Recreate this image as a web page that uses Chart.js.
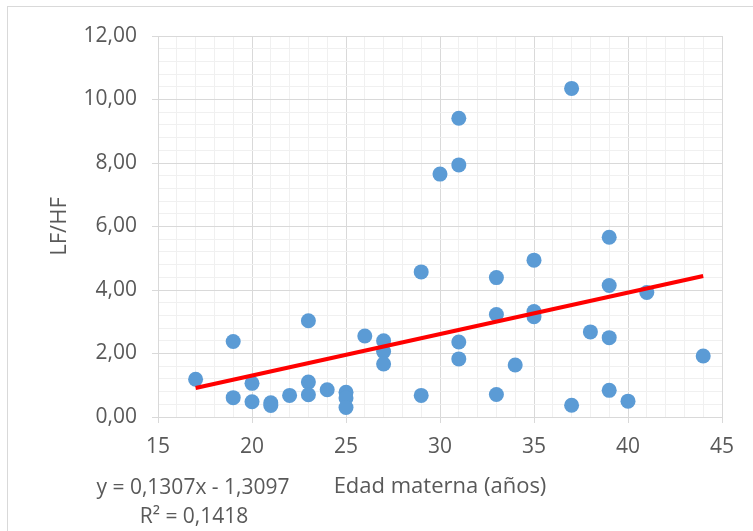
<!DOCTYPE html>
<html>
<head>
<meta charset="utf-8">
<script src="https://cdn.jsdelivr.net/npm/chart.js@4"></script>
<style>
    body { margin: 0; background: #ffffff; }
    canvas { display: block; }
</style>
</head>
<body>
<canvas id="chart" width="753" height="531"></canvas>
<script>
// Edad materna (x) and LF/HF (y)
const edad = [17, 19, 19, 20, 20, 21, 21, 22, 23, 23, 23, 24, 25, 25, 25, 26, 27, 27, 27,
    29, 29, 30, 31, 31, 31, 31, 33, 33, 33, 34, 35, 35, 35, 37, 37, 38, 39, 39, 39, 39, 40, 41, 44];
const lfhf = [1.19, 2.38, 0.61, 1.06, 0.48, 0.45, 0.36, 0.68, 3.03, 1.10, 0.70, 0.86, 0.78, 0.60, 0.30, 2.55, 2.40, 2.06, 1.67,
    4.57, 0.68, 7.65, 9.41, 7.94, 2.36, 1.83, 4.39, 3.23, 0.71, 1.64, 4.94, 3.32, 3.16, 10.35, 0.37, 2.68, 5.66, 4.14, 2.50, 0.84, 0.50, 3.92, 1.92];

// linear trend line as shown in the chart
const slope = 0.1307;
const intercept = -1.3097;
const rSquared = 0.1418;
const trendFrom = 17;
const trendTo = 44;

const xMin = 15, xMax = 45, xMinor = 1, xMajor = 5;
const yMin = 0, yMax = 12, yMinor = 0.4, yMajor = 2;

const fontFamily = "'Open Sans', sans-serif";
const textColor = "#595959";

function isMajor(v, step) {
    const r = v / step;
    return Math.abs(r - Math.round(r)) < 1e-6;
}

function comma(v, digits) {
    return v.toFixed(digits).replace(".", ",");
}

const points = edad.map((x, i) => ({ x: x, y: lfhf[i] }));
const trend = [trendFrom, trendTo].map((x) => ({ x: x, y: slope * x + intercept }));

// frame round the chart + trend line equation under the plot
const extras = {
    id: "extras",
    beforeDraw(chart) {
        const ctx = chart.ctx;
        ctx.save();
        ctx.strokeStyle = "#d9d9d9";
        ctx.lineWidth = 1;
        ctx.strokeRect(7.5, 6.5, 800, 600);
        ctx.restore();
    },
    afterDraw(chart) {
        const ctx = chart.ctx;
        ctx.save();
        ctx.fillStyle = textColor;
        ctx.font = "21px " + fontFamily;
        ctx.textAlign = "center";
        ctx.textBaseline = "middle";
        ctx.fillText("y = " + comma(slope, 4) + "x - " + comma(-intercept, 4), 193, 488);
        ctx.fillText("R² = " + comma(rSquared, 4), 194, 517);
        ctx.restore();
    },
};

const myChart = new Chart(document.getElementById("chart"), {
    type: "scatter",
    data: {
        datasets: [{
            type: "line",
            label: "Lineal",
            data: trend,
            borderColor: "#ff0000",
            borderWidth: 4,
            pointRadius: 0,
            fill: false,
            order: 0,
        }, {
            label: "LF/HF",
            data: points,
            backgroundColor: "#5b9bd5",
            borderWidth: 0,
            pointRadius: 7.5,
            pointHoverRadius: 7.5,
            order: 1,
        }],
    },
    options: {
        responsive: false,
        animation: false,
        layout: {
            padding: { left: 43, right: 31, top: 36, bottom: 27 },
        },
        plugins: {
            legend: { display: false },
            tooltip: { enabled: false },
        },
        scales: {
            x: {
                type: "linear",
                min: xMin,
                max: xMax,
                afterFit: (scale) => { scale.height = 87; },
                ticks: {
                    stepSize: xMinor,
                    autoSkip: false,
                    maxRotation: 0,
                    padding: 11,
                    color: textColor,
                    font: { family: fontFamily, size: 21 },
                    callback: (v) => (isMajor(v, xMajor) ? String(v) : ""),
                },
                grid: {
                    color: (c) => (isMajor(c.tick.value, xMajor) ? "#d9d9d9" : "#f0f0f0"),
                    tickColor: (c) => (isMajor(c.tick.value, xMajor) ? "#d9d9d9" : "rgba(0,0,0,0)"),
                    tickLength: 6,
                },
                border: { color: "#d9d9d9" },
                title: {
                    display: true,
                    text: "Edad materna (años)",
                    color: textColor,
                    font: { family: fontFamily, size: 22 },
                    padding: { top: 4, bottom: 4 },
                },
            },
            y: {
                min: yMin,
                max: yMax,
                afterFit: (scale) => { scale.width = 115; },
                ticks: {
                    stepSize: yMinor,
                    autoSkip: false,
                    padding: 15,
                    color: textColor,
                    font: { family: fontFamily, size: 21 },
                    callback: (v) => (isMajor(v, yMajor) ? comma(v, 2) : ""),
                },
                grid: {
                    color: (c) => (isMajor(c.tick.value, yMajor) ? "#d9d9d9" : "#f0f0f0"),
                    tickColor: (c) => (isMajor(c.tick.value, yMajor) ? "#d9d9d9" : "rgba(0,0,0,0)"),
                    tickLength: 6,
                },
                border: { color: "#d9d9d9" },
                title: {
                    display: true,
                    text: "LF/HF",
                    color: textColor,
                    font: { family: fontFamily, size: 22 },
                    padding: { top: 4, bottom: 4 },
                },
            },
        },
    },
    plugins: [extras],
});
</script>
</body>
</html>
